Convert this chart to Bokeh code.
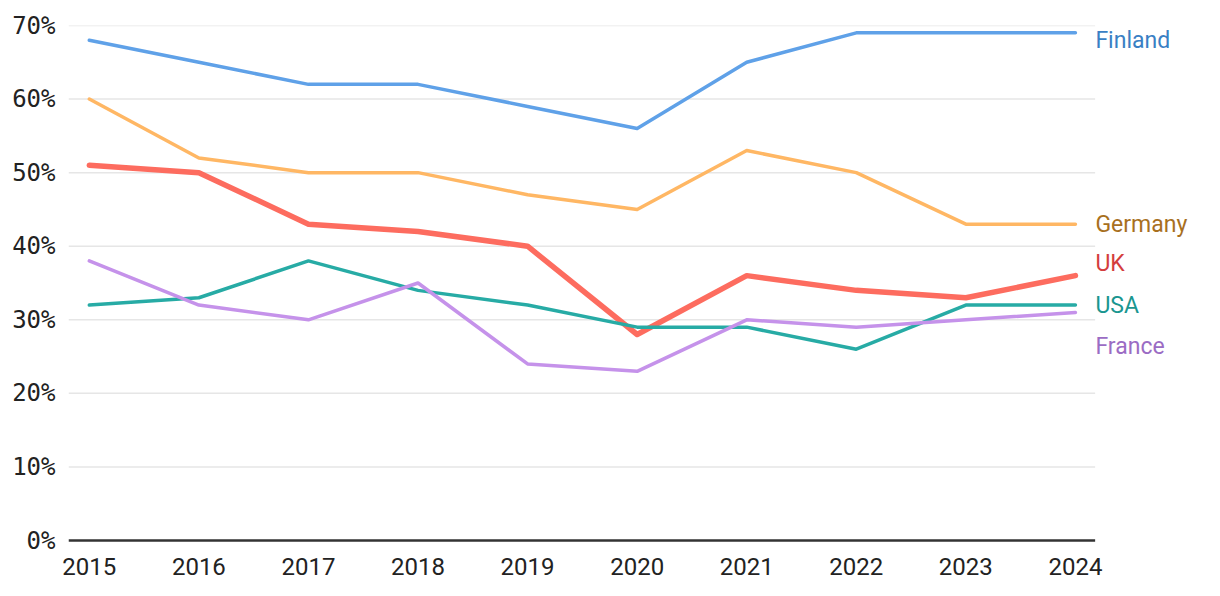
from statistics import median
from bokeh.plotting import figure
from bokeh.models import Range1d, FixedTicker, PrintfTickFormatter, ColumnDataSource, LabelSet
from bokeh.core.properties import value
from bokeh.embed import file_html
from bokeh.resources import INLINE

years = [2015, 2016, 2017, 2018, 2019, 2020, 2021, 2022, 2023, 2024]
finland = [68, 65, 62, 62, 59, 56, 65, 69, 69, 69]
germany = [60, 52, 50, 50, 47, 45, 53, 50, 43, 43]
uk = [51, 50, 43, 42, 40, 28, 36, 34, 33, 36]
usa = [32, 33, 38, 34, 32, 29, 29, 26, 32, 32]
france = [38, 32, 30, 35, 24, 23, 30, 29, 30, 31]
y_ticks = [0, 10, 20, 30, 40, 50, 60, 70]

series = [
    ("Finland", finland, "#5fa1e8", "#3a7fc4", 3.5),
    ("Germany", germany, "#ffb764", "#a8701e", 3.5),
    ("UK", uk, "#fd6c5f", "#d43d3d", 5.5),
    ("USA", usa, "#27aba5", "#1a9690", 3.5),
    ("France", france, "#c592ea", "#9b6cc4", 3.5),
]

x_lo = years[0] - 0.19
x_hi = years[-1] + 0.18

p = figure(width=1200, height=580, output_backend="svg", toolbar_location=None,
           x_range=Range1d(x_lo, x_lo + 10.286), y_range=Range1d(-0.27, 70),
           min_border_left=68, min_border_right=5, min_border_top=25, min_border_bottom=38)
p.outline_line_color = None
p.background_fill_color = "white"
p.border_fill_color = "white"

p.xgrid.visible = False
p.ygrid.visible = False

# horizontal grid lines over the data extent only
grid_y = y_ticks[1:]
p.segment(x0=[x_lo] * len(grid_y), x1=[x_hi] * len(grid_y), y0=grid_y, y1=grid_y,
          line_color="#e6e6e6", line_width=1.5)
# baseline at zero
p.segment(x0=[x_lo], x1=[x_hi], y0=[0], y1=[0], line_color="#333333", line_width=2.5)

p.yaxis.ticker = FixedTicker(ticks=y_ticks)
p.yaxis.formatter = PrintfTickFormatter(format="%d%%")
p.yaxis.axis_line_color = None
p.yaxis.major_tick_line_color = None
p.yaxis.minor_tick_line_color = None
p.yaxis.major_label_text_font = "DejaVu Sans Mono"
p.yaxis.major_label_text_font_size = "24px"
p.yaxis.major_label_text_color = "#222222"
p.yaxis.major_label_standoff = 7

p.xaxis.ticker = FixedTicker(ticks=years)
p.xaxis.formatter = PrintfTickFormatter(format="%d")
p.xaxis.axis_line_color = None
p.xaxis.major_tick_line_color = None
p.xaxis.minor_tick_line_color = None
p.xaxis.major_label_text_font = "Roboto"
p.xaxis.major_label_text_font_size = "24px"
p.xaxis.major_label_text_color = "#222222"
p.xaxis.major_label_standoff = 9

for name, vals, col, tcol, w in series:
    p.line(years, vals, line_color=col, line_width=w, line_join="round", line_cap="round")

# end labels: cluster overlapping labels around their median, keep below top
gap = 5.6
order = sorted(range(len(series)), key=lambda i: -series[i][1][-1])
clusters = [[i] for i in order]


def place(c):
    med = median(series[j][1][-1] for j in c)
    n = len(c)
    return [med + gap * ((n - 1) / 2 - k) for k in range(n)]


changed = True
while changed:
    changed = False
    pos = [place(c) for c in clusters]
    for a in range(len(clusters) - 1):
        if pos[a][-1] - pos[a + 1][0] < gap - 0.5:
            clusters[a] = clusters[a] + clusters[a + 1]
            del clusters[a + 1]
            changed = True
            break
pos = [place(c) for c in clusters]
label_y = {}
for c, ps in zip(clusters, pos):
    for j, yv in zip(c, ps):
        label_y[j] = min(yv, 67.9)

src = ColumnDataSource(dict(
    x=[years[-1]] * len(series),
    y=[label_y[i] for i in range(len(series))],
    t=[s[0] for s in series],
    c=[s[3] for s in series],
))
labels = LabelSet(x="x", y="y", text="t", text_color="c", source=src, x_offset=20,
                  text_font=value("Roboto"), text_font_size=value("23px"),
                  text_baseline=value("middle"), text_align=value("left"))
p.add_layout(labels)

open("out.html", "w").write(file_html(p, INLINE))
